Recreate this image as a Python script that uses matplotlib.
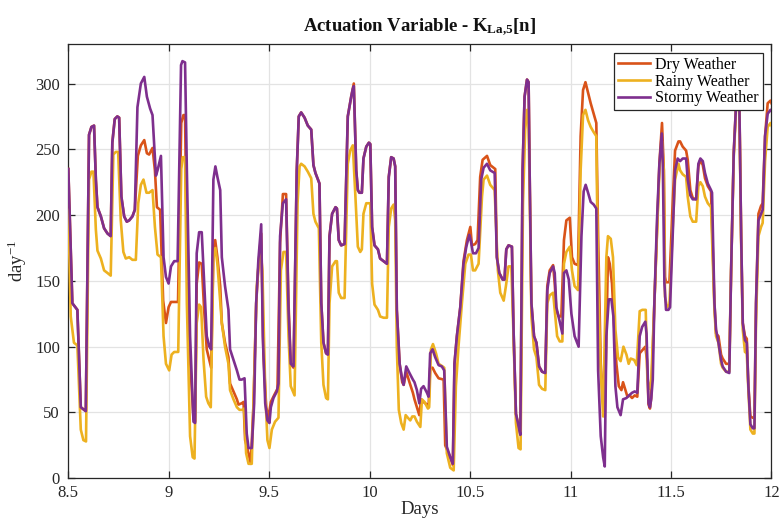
import matplotlib
matplotlib.use("Agg")
import matplotlib.pyplot as plt

plt.rcParams["font.family"] = ["Liberation Serif", "DejaVu Serif"]
plt.rcParams["mathtext.fontset"] = "custom"
plt.rcParams["mathtext.rm"] = "Liberation Serif"
plt.rcParams["mathtext.it"] = "Liberation Serif:italic"
plt.rcParams["mathtext.bf"] = "Liberation Serif:bold"

# ---- KLa,5 actuation per weather scenario (time in days, value in day^-1) ----
dry_t = [8.500, 8.520, 8.545, 8.562, 8.587, 8.603, 8.615, 8.628, 8.637, 8.645, 8.662, 8.678, 8.695, 8.711,
         8.719, 8.731, 8.744, 8.753, 8.764, 8.778, 8.791, 8.803, 8.819, 8.831, 8.846, 8.861, 8.878, 8.891,
         8.902, 8.919, 8.931, 8.941, 8.957, 8.965, 8.972, 8.986, 8.999, 9.011, 9.030, 9.046, 9.062, 9.073,
         9.081, 9.090, 9.106, 9.123, 9.131, 9.139, 9.151, 9.164, 9.176, 9.189, 9.206, 9.211, 9.222, 9.231,
         9.242, 9.256, 9.264, 9.280, 9.297, 9.305, 9.322, 9.339, 9.347, 9.363, 9.372, 9.380, 9.397, 9.408,
         9.422, 9.435, 9.446, 9.460, 9.471, 9.485, 9.496, 9.508, 9.524, 9.541, 9.554, 9.568, 9.584, 9.596,
         9.607, 9.621, 9.637, 9.647, 9.659, 9.676, 9.692, 9.709, 9.720, 9.730, 9.750, 9.759, 9.770, 9.783,
         9.792, 9.800, 9.813, 9.830, 9.837, 9.846, 9.858, 9.875, 9.891, 9.908, 9.916, 9.921, 9.933, 9.941,
         9.949, 9.961, 9.969, 9.983, 9.996, 10.003, 10.012, 10.024, 10.041, 10.052, 10.069, 10.086, 10.095,
         10.107, 10.119, 10.127, 10.135, 10.149, 10.162, 10.169, 10.182, 10.198, 10.215, 10.223, 10.235,
         10.247, 10.256, 10.268, 10.285, 10.293, 10.301, 10.313, 10.326, 10.343, 10.368, 10.376, 10.401,
         10.414, 10.422, 10.434, 10.451, 10.467, 10.484, 10.501, 10.509, 10.525, 10.537, 10.550, 10.562,
         10.584, 10.600, 10.625, 10.633, 10.645, 10.662, 10.671, 10.680, 10.691, 10.708, 10.716, 10.728,
         10.738, 10.750, 10.761, 10.771, 10.783, 10.791, 10.796, 10.805, 10.818, 10.830, 10.843, 10.858,
         10.874, 10.884, 10.896, 10.913, 10.921, 10.929, 10.941, 10.954, 10.967, 10.979, 10.996, 11.007,
         11.020, 11.037, 11.050, 11.062, 11.074, 11.087, 11.100, 11.115, 11.128, 11.137, 11.150, 11.162,
         11.170, 11.186, 11.195, 11.206, 11.216, 11.228, 11.240, 11.253, 11.261, 11.273, 11.283, 11.294,
         11.306, 11.319, 11.332, 11.344, 11.361, 11.372, 11.380, 11.388, 11.395, 11.401, 11.417, 11.442,
         11.455, 11.464, 11.470, 11.475, 11.492, 11.508, 11.520, 11.537, 11.545, 11.558, 11.575, 11.583,
         11.596, 11.608, 11.625, 11.636, 11.646, 11.658, 11.669, 11.683, 11.699, 11.716, 11.724, 11.736,
         11.749, 11.757, 11.774, 11.790, 11.799, 11.812, 11.824, 11.832, 11.840, 11.849, 11.857, 11.868,
         11.877, 11.885, 11.895, 11.907, 11.915, 11.923, 11.935, 11.948, 11.956, 11.968, 11.981, 11.995,
         12.000]
dry_v = [235, 133, 128, 54, 51, 261, 267, 268, 227, 206, 199, 190, 186, 184,
         255, 273, 275, 274, 214, 199, 195, 196, 199, 204, 245, 253, 257, 247,
         246, 251, 234, 206, 204, 168, 135, 118, 130, 134, 134, 134, 270, 276,
         276, 170, 90, 45, 43, 148, 164, 163, 128, 98, 87, 84, 173, 181,
         168, 146, 118, 103, 92, 72, 66, 60, 56, 57, 58, 29, 19, 11,
         57, 133, 161, 186, 95, 54, 46, 58, 63, 68, 179, 216, 216, 133,
         87, 84, 234, 275, 278, 274, 268, 265, 238, 232, 224, 133, 103, 95,
         94, 184, 201, 206, 205, 181, 177, 178, 275, 290, 296, 300, 234, 219,
         217, 217, 243, 252, 255, 254, 191, 177, 174, 167, 165, 163, 229,
         244, 243, 237, 128, 87, 73, 71, 81, 73, 65, 60, 54,
         48, 60, 58, 56, 54, 84, 84, 80, 76, 75, 25, 16,
         10, 87, 108, 130, 165, 181, 191, 177, 178, 181, 229, 242,
         245, 238, 235, 168, 156, 151, 151, 174, 177, 176, 113, 49,
         42, 33, 234, 290, 303, 301, 234, 133, 108, 103, 85, 81,
         80, 146, 158, 162, 148, 128, 123, 123, 181, 196, 198, 168,
         163, 162, 260, 295, 301, 293, 285, 277, 270, 184, 87, 57,
         47, 168, 163, 148, 118, 87, 70, 67, 73, 67, 62, 63,
         61, 63, 62, 95, 98, 100, 90, 56, 53, 61, 133, 239,
         270, 234, 153, 149, 149, 209, 249, 256, 256, 252, 249, 242,
         219, 213, 212, 237, 242, 238, 228, 222, 218, 133, 110, 108,
         94, 91, 87, 87, 158, 247, 285, 297, 285, 184, 118, 108,
         106, 70, 47, 46, 46, 133, 201, 207, 209, 260, 285, 287,
         285]

rainy_t = [8.500, 8.512, 8.528, 8.545, 8.562, 8.575, 8.588, 8.603, 8.615, 8.625, 8.637, 8.645, 8.662, 8.678,
           8.695, 8.711, 8.724, 8.736, 8.748, 8.761, 8.774, 8.786, 8.803, 8.819, 8.836, 8.848, 8.861, 8.874,
           8.889, 8.902, 8.919, 8.931, 8.944, 8.961, 8.974, 8.986, 9.002, 9.014, 9.027, 9.047, 9.062, 9.070,
           9.081, 9.090, 9.106, 9.119, 9.128, 9.139, 9.151, 9.161, 9.173, 9.186, 9.197, 9.209, 9.222, 9.232,
           9.242, 9.264, 9.280, 9.297, 9.305, 9.322, 9.339, 9.352, 9.368, 9.375, 9.385, 9.397, 9.413, 9.425,
           9.438, 9.455, 9.466, 9.480, 9.491, 9.501, 9.513, 9.529, 9.546, 9.558, 9.571, 9.584, 9.596, 9.607,
           9.626, 9.641, 9.651, 9.659, 9.676, 9.692, 9.709, 9.720, 9.730, 9.747, 9.759, 9.770, 9.783, 9.792,
           9.800, 9.813, 9.830, 9.837, 9.846, 9.858, 9.875, 9.891, 9.903, 9.916, 9.929, 9.941, 9.953, 9.961,
           9.969, 9.983, 10.003, 10.012, 10.024, 10.041, 10.052, 10.069, 10.086, 10.095, 10.107, 10.119,
           10.127, 10.135, 10.145, 10.157, 10.169, 10.179, 10.190, 10.202, 10.212, 10.223, 10.235, 10.252,
           10.260, 10.273, 10.290, 10.296, 10.305, 10.315, 10.330, 10.343, 10.363, 10.371, 10.384, 10.401,
           10.418, 10.429, 10.442, 10.459, 10.476, 10.492, 10.504, 10.514, 10.525, 10.542, 10.559, 10.567,
           10.584, 10.600, 10.622, 10.638, 10.650, 10.667, 10.678, 10.691, 10.705, 10.716, 10.728, 10.741,
           10.751, 10.763, 10.774, 10.784, 10.790, 10.796, 10.805, 10.818, 10.830, 10.843, 10.858, 10.874,
           10.884, 10.896, 10.913, 10.921, 10.933, 10.946, 10.959, 10.967, 10.979, 10.996, 11.007, 11.020,
           11.037, 11.050, 11.062, 11.074, 11.087, 11.100, 11.115, 11.128, 11.137, 11.150, 11.162, 11.178,
           11.186, 11.200, 11.211, 11.223, 11.236, 11.249, 11.263, 11.278, 11.289, 11.299, 11.316, 11.329,
           11.344, 11.357, 11.374, 11.382, 11.392, 11.401, 11.417, 11.442, 11.455, 11.464, 11.470, 11.480,
           11.492, 11.508, 11.520, 11.537, 11.545, 11.558, 11.575, 11.583, 11.596, 11.608, 11.625, 11.636,
           11.646, 11.658, 11.669, 11.683, 11.699, 11.716, 11.724, 11.736, 11.749, 11.757, 11.774, 11.790,
           11.799, 11.812, 11.824, 11.832, 11.840, 11.849, 11.857, 11.868, 11.877, 11.885, 11.895, 11.907,
           11.915, 11.923, 11.935, 11.948, 11.956, 11.968, 11.981, 11.995, 12.000]
rainy_v = [204, 123, 103, 101, 37, 29, 28, 227, 233, 233, 189, 173, 167, 158,
           156, 154, 246, 248, 248, 196, 172, 167, 168, 166, 166, 209, 223, 227,
           217, 217, 219, 191, 170, 168, 108, 87, 82, 94, 96, 96, 235, 244,
           244, 133, 32, 16, 15, 118, 132, 130, 90, 62, 57, 54, 168, 175,
           163, 118, 100, 87, 67, 60, 54, 52, 52, 53, 19, 11, 11, 77,
           146, 176, 158, 67, 29, 23, 37, 43, 46, 158, 172, 172, 108, 70,
           63, 209, 237, 239, 237, 233, 228, 201, 195, 190, 103, 71, 61, 60,
           133, 161, 165, 165, 141, 137, 137, 239, 249, 253, 214, 176, 172, 174,
           201, 209, 209, 148, 132, 128, 123, 122, 122, 191, 205, 208,
           196, 100, 52, 42, 37, 48, 46, 44, 47, 47, 43, 39,
           60, 58, 53, 54, 98, 102, 95, 87, 85, 84, 19, 8,
           6, 70, 100, 133, 163, 170, 170, 158, 158, 163, 214, 227,
           230, 223, 219, 158, 141, 135, 146, 161, 161, 108, 42, 23,
           22, 209, 265, 280, 275, 222, 123, 98, 92, 71, 68, 67,
           133, 139, 141, 128, 108, 104, 104, 163, 172, 176, 158, 146,
           143, 234, 276, 280, 272, 267, 263, 260, 146, 82, 47, 168,
           184, 182, 168, 113, 92, 89, 100, 94, 87, 91, 90, 86,
           127, 128, 128, 77, 68, 73, 133, 234, 256, 234, 138, 130,
           132, 189, 227, 239, 234, 231, 229, 214, 199, 195, 195, 222,
           225, 222, 214, 209, 206, 128, 108, 103, 87, 84, 81, 81,
           158, 244, 282, 295, 282, 179, 113, 96, 95, 67, 37, 34,
           34, 120, 184, 191, 194, 241, 267, 270, 268]

stormy_t = [8.500, 8.520, 8.545, 8.562, 8.587, 8.603, 8.615, 8.628, 8.637, 8.645, 8.662, 8.678, 8.695, 8.711,
            8.719, 8.731, 8.744, 8.753, 8.764, 8.778, 8.791, 8.803, 8.819, 8.831, 8.844, 8.861, 8.878, 8.891,
            8.907, 8.919, 8.936, 8.944, 8.961, 8.974, 8.986, 8.999, 9.011, 9.027, 9.044, 9.061, 9.068, 9.081,
            9.090, 9.106, 9.123, 9.131, 9.139, 9.151, 9.164, 9.173, 9.189, 9.202, 9.211, 9.222, 9.232, 9.242,
            9.256, 9.264, 9.280, 9.297, 9.305, 9.322, 9.339, 9.352, 9.363, 9.377, 9.388, 9.397, 9.413, 9.425,
            9.435, 9.446, 9.460, 9.468, 9.480, 9.491, 9.501, 9.508, 9.521, 9.538, 9.546, 9.554, 9.568, 9.584,
            9.596, 9.607, 9.621, 9.637, 9.647, 9.659, 9.676, 9.692, 9.709, 9.720, 9.730, 9.750, 9.759, 9.770,
            9.783, 9.792, 9.800, 9.813, 9.830, 9.837, 9.846, 9.858, 9.875, 9.891, 9.908, 9.916, 9.921, 9.933,
            9.941, 9.949, 9.961, 9.969, 9.983, 9.996, 10.003, 10.012, 10.024, 10.041, 10.052, 10.069, 10.086,
            10.095, 10.107, 10.119, 10.127, 10.135, 10.149, 10.162, 10.169, 10.182, 10.198, 10.215, 10.223,
            10.235, 10.247, 10.256, 10.268, 10.285, 10.293, 10.301, 10.313, 10.326, 10.343, 10.359, 10.371,
            10.384, 10.401, 10.414, 10.422, 10.434, 10.451, 10.467, 10.481, 10.496, 10.504, 10.514, 10.529,
            10.542, 10.555, 10.567, 10.584, 10.600, 10.622, 10.633, 10.645, 10.662, 10.671, 10.680, 10.691,
            10.708, 10.716, 10.728, 10.738, 10.750, 10.761, 10.771, 10.783, 10.791, 10.796, 10.805, 10.818,
            10.830, 10.843, 10.858, 10.874, 10.884, 10.896, 10.913, 10.921, 10.929, 10.946, 10.959, 10.967,
            10.979, 10.991, 11.004, 11.020, 11.040, 11.054, 11.065, 11.075, 11.087, 11.100, 11.115, 11.128,
            11.137, 11.150, 11.162, 11.170, 11.178, 11.190, 11.203, 11.213, 11.223, 11.233, 11.249, 11.261,
            11.278, 11.291, 11.306, 11.319, 11.332, 11.344, 11.356, 11.372, 11.378, 11.388, 11.395, 11.401,
            11.409, 11.417, 11.430, 11.442, 11.454, 11.459, 11.467, 11.475, 11.487, 11.495, 11.508, 11.520,
            11.533, 11.545, 11.558, 11.575, 11.583, 11.596, 11.608, 11.625, 11.636, 11.646, 11.658, 11.669,
            11.683, 11.699, 11.704, 11.716, 11.724, 11.736, 11.749, 11.757, 11.774, 11.790, 11.799, 11.812,
            11.824, 11.832, 11.840, 11.849, 11.857, 11.868, 11.877, 11.885, 11.895, 11.907, 11.915, 11.923,
            11.935, 11.948, 11.956, 11.968, 11.981, 11.995, 12.000]
stormy_v = [235, 133, 128, 54, 51, 261, 267, 268, 227, 206, 199, 190, 186, 184,
            255, 273, 275, 274, 214, 199, 195, 196, 199, 204, 282, 300, 305, 290,
            281, 276, 230, 234, 245, 168, 153, 148, 161, 165, 165, 314, 317, 316,
            234, 108, 43, 42, 171, 187, 187, 158, 108, 100, 98, 227, 237, 229,
            219, 168, 146, 128, 98, 90, 82, 75, 75, 76, 34, 23, 23, 57,
            133, 166, 193, 108, 57, 44, 42, 54, 61, 66, 72, 184, 209, 212,
            128, 87, 85, 234, 275, 278, 274, 268, 265, 238, 232, 224, 133, 103,
            95, 94, 184, 201, 206, 205, 181, 177, 178, 275, 290, 296, 298, 234,
            219, 217, 217, 243, 252, 255, 254, 191, 177, 174, 167, 165, 163,
            229, 244, 243, 237, 128, 87, 75, 71, 85, 80, 75, 73,
            67, 57, 68, 70, 65, 62, 95, 98, 92, 86, 85, 82,
            24, 16, 11, 87, 108, 130, 163, 176, 185, 180, 171, 171,
            175, 227, 236, 239, 234, 232, 168, 156, 151, 151, 174, 177,
            176, 113, 49, 42, 33, 234, 290, 303, 301, 234, 133, 108,
            103, 85, 81, 80, 143, 156, 161, 156, 130, 119, 110, 156,
            158, 151, 125, 108, 100, 184, 218, 223, 217, 210, 208, 205,
            82, 32, 16, 9, 108, 136, 136, 123, 70, 54, 48, 60,
            61, 63, 65, 66, 65, 108, 115, 119, 110, 57, 54, 60,
            75, 133, 196, 239, 262, 239, 148, 128, 128, 130, 184, 234,
            243, 241, 243, 243, 227, 215, 212, 212, 239, 243, 241, 232,
            224, 219, 217, 133, 113, 103, 90, 85, 81, 80, 158, 247,
            285, 293, 285, 184, 118, 105, 103, 70, 41, 38, 38, 133,
            196, 201, 204, 260, 277, 280, 279]

x_ticks = [8.5, 9, 9.5, 10, 10.5, 11, 11.5, 12]
x_tick_labels = ["8.5", "9", "9.5", "10", "10.5", "11", "11.5", "12"]
y_ticks = [0, 50, 100, 150, 200, 250, 300]

fig = plt.figure(figsize=(7.8, 5.26), dpi=100)
ax = fig.add_axes([0.0876, 0.0907, 0.9015, 0.8256])

lw = 1.9
ax.plot(dry_t, dry_v, color="#D95319", lw=lw, label="Dry Weather", zorder=3)
ax.plot(rainy_t, rainy_v, color="#EDB120", lw=lw, label="Rainy Weather", zorder=3)
ax.plot(stormy_t, stormy_v, color="#7E2F8E", lw=lw, label="Stormy Weather", zorder=3)

ax.set_xlim(8.5, 12)
ax.set_ylim(0, 330)
ax.set_xticks(x_ticks)
ax.set_xticklabels(x_tick_labels)
ax.set_yticks(y_ticks)

ax.grid(True, color="#e3e3e3", lw=0.9, zorder=0)
ax.set_axisbelow(True)
for s in ax.spines.values():
    s.set_color("#262626")
    s.set_linewidth(0.9)
ax.tick_params(direction="in", length=5, width=0.9, top=True, right=True,
               labelsize=12, colors="#262626")
ax.tick_params(axis="x", pad=5)
ax.tick_params(axis="y", pad=6)

ax.set_xlabel("Days", fontsize=13.5, color="#262626", labelpad=0)
ax.set_ylabel(r"day$^{-1}$", fontsize=13.5, color="#262626", labelpad=4)
ax.set_title(r"Actuation Variable - K$_{\mathbf{La{,}5}}$[n]", fontsize=13.5,
             fontweight="bold", color="#111111", pad=9)

leg = ax.legend(loc="upper right", fontsize=11.5, frameon=True, fancybox=False,
                edgecolor="#262626", framealpha=1, borderpad=0.25, labelspacing=0.05,
                handlelength=2.0, handletextpad=0.3, borderaxespad=0.55)
leg.get_frame().set_linewidth(0.9)

fig.savefig("out.png", dpi=100)
